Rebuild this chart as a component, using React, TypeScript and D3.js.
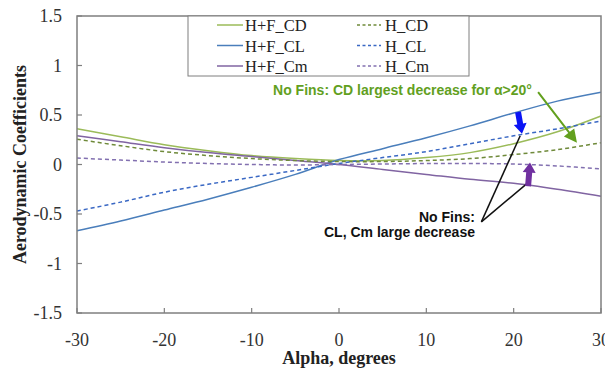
import React from "react";
import * as d3 from "d3";

const alpha = [-30, -25, -20, -15, -10, -5, 0, 5, 10, 15, 20, 25, 30];
const hfCD = [0.36, 0.28, 0.2, 0.14, 0.09, 0.06, 0.04, 0.04, 0.07, 0.12, 0.21, 0.33, 0.49];
const hfCL = [-0.67, -0.57, -0.46, -0.35, -0.23, -0.1, 0.05, 0.16, 0.27, 0.39, 0.52, 0.64, 0.73];
const hfCm = [0.29, 0.23, 0.17, 0.12, 0.08, 0.04, 0.0, -0.05, -0.1, -0.15, -0.19, -0.25, -0.32];
const hCD = [0.255, 0.19, 0.13, 0.09, 0.06, 0.04, 0.03, 0.03, 0.04, 0.06, 0.1, 0.15, 0.22];
const hCL = [-0.47, -0.38, -0.28, -0.2, -0.13, -0.06, 0.01, 0.07, 0.13, 0.21, 0.29, 0.36, 0.44];
const hCm = [0.065, 0.045, 0.025, 0.01, 0.0, -0.005, 0.0, 0.005, 0.01, 0.01, 0.005, -0.015, -0.045];

const xTicks = [-30, -20, -10, 0, 10, 20, 30];
const yTicks = [-1.5, -1, -0.5, 0, 0.5, 1, 1.5];

const series = [
  { name: "H+F_CD", values: hfCD, color: "#9bbb59", dash: null },
  { name: "H+F_CL", values: hfCL, color: "#4a7ebb", dash: null },
  { name: "H+F_Cm", values: hfCm, color: "#8064a2", dash: null },
  { name: "H_CD", values: hCD, color: "#6f8a3a", dash: "4,3" },
  { name: "H_CL", values: hCL, color: "#3a68c4", dash: "4,3" },
  { name: "H_Cm", values: hCm, color: "#8270b0", dash: "4,3" },
];

const W = 605;
const H = 369;
const serif = "'Times New Roman', 'Liberation Serif', serif";
const sans = "Arial, 'Liberation Sans', sans-serif";

function Arrow({ x1, y1, x2, y2, color, shaft, headW, headL }: any) {
  const dx = x2 - x1;
  const dy = y2 - y1;
  const len = Math.sqrt(dx * dx + dy * dy);
  const ux = dx / len;
  const uy = dy / len;
  const px = -uy;
  const py = ux;
  const bx = x2 - ux * headL;
  const by = y2 - uy * headL;
  const s = shaft / 2;
  const h = headW / 2;
  const pts = [
    [x1 + px * s, y1 + py * s],
    [bx + px * s, by + py * s],
    [bx + px * h, by + py * h],
    [x2, y2],
    [bx - px * h, by - py * h],
    [bx - px * s, by - py * s],
    [x1 - px * s, y1 - py * s],
  ];
  return <polygon points={pts.map((p) => p.join(",")).join(" ")} fill={color} />;
}

export default function App() {
  const x = d3.scaleLinear().domain([-30, 30]).range([77, 601]);
  const y = d3.scaleLinear().domain([-1.5, 1.5]).range([313, 16]);
  const line = (vals: number[]) =>
    d3
      .line<number>()
      .x((_, i) => x(alpha[i]))
      .y((v) => y(v))
      .curve(d3.curveCatmullRom)(vals) as string;

  const axisColor = "#7f7f7f";
  const green = "#62a01e";

  // annotation anchors in data coordinates
  const gTail = [22.8, 0.73];
  const gTip = [27.25, 0.22];
  const bTail = [20.5, 0.53];
  const bTip = [20.95, 0.31];
  const pTail = [21.65, -0.22];
  const pTip = [21.87, 0.02];
  const jn = [16.3, -0.58];
  const l1 = [20.75, 0.29];
  const l2 = [21.55, -0.19];

  const legendRows = [0, 1, 2];

  return (
    <svg
      width={W}
      height={H}
      style={{ position: "absolute", left: 0, top: 0, background: "#fff" }}
    >
      <rect x={0} y={0} width={W} height={H} fill="#fff" />
      {/* series */}
      {series.map((s) => (
        <path
          key={s.name}
          d={line(s.values)}
          fill="none"
          stroke={s.color}
          strokeWidth={1.5}
          strokeDasharray={s.dash || undefined}
        />
      ))}
      {/* frame */}
      <rect
        x={x(-30)}
        y={y(1.5)}
        width={x(30) - x(-30)}
        height={y(-1.5) - y(1.5)}
        fill="none"
        stroke={axisColor}
        strokeWidth={1.5}
      />
      {/* y ticks */}
      {yTicks.map((t) => (
        <g key={"y" + t}>
          <line x1={x(-30)} x2={x(-30) + 5} y1={y(t)} y2={y(t)} stroke={axisColor} strokeWidth={1.2} />
          <text
            x={x(-30) - 15}
            y={y(t)}
            dy="0.35em"
            textAnchor="end"
            fontFamily={serif}
            fontSize={18}
            fill="#333"
          >
            {String(t)}
          </text>
        </g>
      ))}
      {/* x ticks */}
      {xTicks.map((t) => (
        <g key={"x" + t}>
          <line x1={x(t)} x2={x(t)} y1={y(-1.5)} y2={y(-1.5) - 5} stroke={axisColor} strokeWidth={1.2} />
          <text
            x={x(t)}
            y={346}
            textAnchor="middle"
            fontFamily={serif}
            fontSize={18}
            fill="#333"
          >
            {String(t)}
          </text>
        </g>
      ))}
      {/* axis titles */}
      <text
        x={x(0)}
        y={364}
        textAnchor="middle"
        fontFamily={serif}
        fontWeight="bold"
        fontSize={18}
        fill="#222"
      >
        Alpha, degrees
      </text>
      <text
        transform={`translate(26,${y(0)}) rotate(-90)`}
        textAnchor="middle"
        fontFamily={serif}
        fontWeight="bold"
        fontSize={18}
        fill="#222"
      >
        Aerodynamic Coefficients
      </text>
      {/* legend */}
      <rect x={188} y={16} width={281} height={60} fill="#fff" stroke={axisColor} strokeWidth={1} />
      {legendRows.map((r) => {
        const left = series[r];
        const right = series[r + 3];
        const ly = 25 + r * 20.5;
        return (
          <g key={"lg" + r}>
            <line x1={217} x2={243} y1={ly} y2={ly} stroke={left.color} strokeWidth={1.5} />
            <text x={245} y={ly + 6} fontFamily={serif} fontSize={16.5} fill="#222">
              {left.name}
            </text>
            <line
              x1={357}
              x2={381}
              y1={ly}
              y2={ly}
              stroke={right.color}
              strokeWidth={1.5}
              strokeDasharray="3,2.5"
            />
            <text x={385} y={ly + 6} fontFamily={serif} fontSize={16.5} fill="#222">
              {right.name}
            </text>
          </g>
        );
      })}
      {/* annotations */}
      <text
        x={x(-7.55)}
        y={y(0.7)}
        fontFamily={sans}
        fontWeight="bold"
        fontSize={14}
        fill={green}
      >
        No Fins: CD largest decrease for α&gt;20°
      </text>
      <Arrow
        x1={x(gTail[0])}
        y1={y(gTail[1])}
        x2={x(gTip[0])}
        y2={y(gTip[1])}
        color={green}
        shaft={2}
        headW={13}
        headL={13}
      />
      <line x1={x(jn[0])} y1={y(jn[1])} x2={x(l1[0])} y2={y(l1[1])} stroke="#111" strokeWidth={1.5} />
      <line x1={x(jn[0])} y1={y(jn[1])} x2={x(l2[0])} y2={y(l2[1])} stroke="#111" strokeWidth={1.5} />
      <Arrow
        x1={x(bTail[0])}
        y1={y(bTail[1])}
        x2={x(bTip[0])}
        y2={y(bTip[1])}
        color="#0a14f5"
        shaft={6}
        headW={13}
        headL={10}
      />
      <Arrow
        x1={x(pTail[0])}
        y1={y(pTail[1])}
        x2={x(pTip[0])}
        y2={y(pTip[1])}
        color="#7030a0"
        shaft={6}
        headW={13}
        headL={10}
      />
      <text
        x={x(15.57)}
        y={y(-0.58)}
        textAnchor="end"
        fontFamily={sans}
        fontWeight="bold"
        fontSize={14}
        fill="#111"
      >
        No Fins:
      </text>
      <text
        x={x(15.57)}
        y={y(-0.73)}
        textAnchor="end"
        fontFamily={sans}
        fontWeight="bold"
        fontSize={14}
        fill="#111"
      >
        CL, Cm large decrease
      </text>
    </svg>
  );
}
